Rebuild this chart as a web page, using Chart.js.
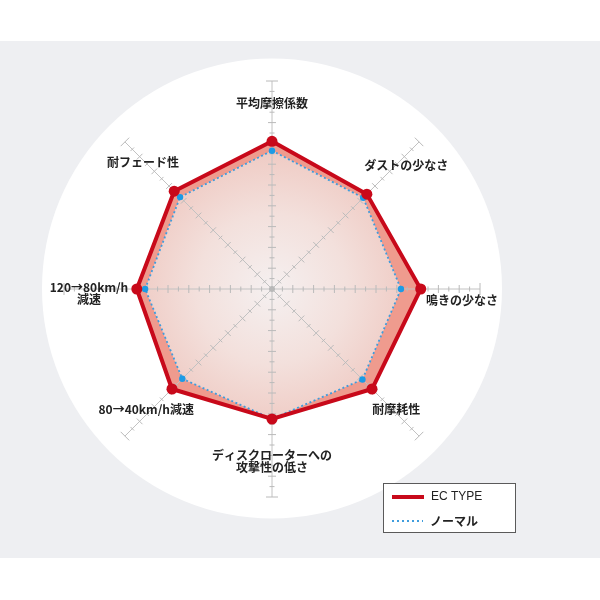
<!DOCTYPE html>
<html>
<head>
<meta charset="utf-8">
<script src="https://cdn.jsdelivr.net/npm/chart.js@4.4.1/dist/chart.umd.min.js"></script>
<style>
  html, body { margin: 0; padding: 0; background: #ffffff; }
  #wrap { position: relative; width: 600px; height: 600px; }
</style>
</head>
<body>
<div id="wrap"><canvas id="radar"></canvas></div>
<script>
// axis names, clockwise from the top
var categories = [
    ["平均摩擦係数"],
    ["ダストの少なさ"],
    ["鳴きの少なさ"],
    ["耐摩耗性"],
    ["ディスクローターへの", "攻撃性の低さ"],
    ["80→40km/h減速"],
    ["120→80km/h", "減速"],
    ["耐フェード性"]
];
var seriesNames = ["EC TYPE", "ノーマル"];
var ecValues = [14.2, 12.9, 14.3, 13.6, 12.5, 13.6, 13.0, 13.3];
var normalValues = [13.3, 12.4, 12.4, 12.3, 12.5, 12.2, 12.2, 12.5];
var scaleMax = 20;

// label placement: distance from centre along the axis, then small nudge
var labelPlace = [
    [186, 0, 0],
    [180, 7, 4],
    [190, 0, 11],
    [173, 2, -2],
    [172, 0, 0],
    [175, -2, -3],
    [183, 0, 4],
    [181, -1, 1]
];

var labelFont = "bold 12px 'Noto Sans CJK JP', 'Noto Sans', sans-serif";

function normalFill(context) {
    var s = context.chart.scales.r;
    if (!s || !s.drawingArea) return "#f0d4cf";
    var g = context.chart.ctx.createRadialGradient(s.xCenter, s.yCenter, 0, s.xCenter, s.yCenter, s.drawingArea * 0.66);
    g.addColorStop(0, "#f5f0f0");
    g.addColorStop(0.55, "#f3e0dc");
    g.addColorStop(1, "#efcbc4");
    return g;
}

// gray band and the white disc behind the chart
var backdrop = {
    id: "backdrop",
    beforeDraw: function(chart) {
        var ctx = chart.ctx;
        var s = chart.scales.r;
        ctx.save();
        ctx.fillStyle = "#eeeff2";
        ctx.fillRect(0, 41, chart.width, 517);
        ctx.fillStyle = "#ffffff";
        ctx.beginPath();
        ctx.arc(s.xCenter, s.yCenter - 0.5, s.drawingArea * 230 / 208, 0, Math.PI * 2);
        ctx.fill();
        ctx.restore();
    }
};

// axis spokes with tick marks, drawn over the fills but under the lines
var spokes = {
    id: "spokes",
    beforeDatasetsDraw: function(chart) {
        var ctx = chart.ctx;
        var s = chart.scales.r;
        ctx.save();
        ctx.lineWidth = 1;
        for (var i = 0; i < categories.length; i++) {
            var end = s.getPointPositionForValue(i, scaleMax);
            ctx.strokeStyle = "#c2c2c2";
            ctx.beginPath();
            ctx.moveTo(s.xCenter, s.yCenter);
            ctx.lineTo(end.x, end.y);
            ctx.stroke();

            var px = -Math.sin(end.angle);
            var py = Math.cos(end.angle);
            ctx.strokeStyle = "#bababa";
            for (var v = 1; v <= scaleMax; v++) {
                var p = s.getPointPositionForValue(i, v);
                var half = v == scaleMax ? 6 : (v % 2 == 0 ? 4 : 2.5);
                ctx.beginPath();
                ctx.moveTo(p.x - px * half, p.y - py * half);
                ctx.lineTo(p.x + px * half, p.y + py * half);
                ctx.stroke();
            }
        }
        ctx.fillStyle = "#b8b8b8";
        ctx.beginPath();
        ctx.arc(s.xCenter, s.yCenter, 3, 0, Math.PI * 2);
        ctx.fill();
        ctx.restore();
    }
};

// axis names and the boxed legend
var texts = {
    id: "texts",
    afterDraw: function(chart) {
        var ctx = chart.ctx;
        var s = chart.scales.r;
        ctx.save();
        ctx.font = labelFont;
        ctx.fillStyle = "#222222";
        ctx.textAlign = "center";
        ctx.textBaseline = "middle";
        for (var i = 0; i < categories.length; i++) {
            var pl = labelPlace[i];
            var p = s.getPointPosition(i, pl[0]);
            var lines = categories[i];
            var y0 = p.y + pl[2] - (lines.length - 1) * 6;
            for (var k = 0; k < lines.length; k++) {
                ctx.fillText(lines[k], p.x + pl[1], y0 + k * 12);
            }
        }

        // legend
        var ds = chart.data.datasets;
        ctx.fillStyle = "#ffffff";
        ctx.fillRect(383, 483, 132, 49);
        ctx.strokeStyle = "#5a5a5a";
        ctx.lineWidth = 1;
        ctx.strokeRect(383.5, 483.5, 132, 49);

        ctx.strokeStyle = ds[0].borderColor;
        ctx.lineWidth = 4;
        ctx.beginPath();
        ctx.moveTo(392, 497);
        ctx.lineTo(424, 497);
        ctx.stroke();

        ctx.strokeStyle = ds[1].borderColor;
        ctx.lineWidth = 2;
        ctx.setLineDash([2, 3]);
        ctx.beginPath();
        ctx.moveTo(392, 521);
        ctx.lineTo(423, 521);
        ctx.stroke();
        ctx.setLineDash([]);

        ctx.fillStyle = "#222222";
        ctx.textAlign = "left";
        ctx.font = "12px 'Liberation Sans', Arial, sans-serif";
        ctx.fillText(ds[0].label, 431, 497);
        ctx.font = labelFont;
        ctx.fillText(ds[1].label, 430, 521);
        ctx.restore();
    }
};

var config = {
    type: "radar",
    data: {
        labels: categories,
        datasets: [{
            label: seriesNames[0],
            data: ecValues,
            order: 1,
            fill: "+1",   // band between EC TYPE and ノーマル
            backgroundColor: "#ef9b8e",
            borderColor: "#c8091a",
            borderWidth: 4,
            borderJoinStyle: "miter",
            pointRadius: 5.5,
            pointBorderWidth: 0,
            pointBackgroundColor: "#c8091a"
        }, {
            label: seriesNames[1],
            data: normalValues,
            order: 2,
            fill: true,
            backgroundColor: normalFill,
            borderColor: "#3f9ddd",
            borderWidth: 1.8,
            borderDash: [2, 2.5],
            pointRadius: 3.2,
            pointBorderWidth: 0,
            pointBackgroundColor: "#1c9be6"
        }]
    },
    options: {
        responsive: true,
        maintainAspectRatio: false,
        animation: false,
        layout: {
            padding: { left: 64, right: 120, top: 81, bottom: 103 }
        },
        scales: {
            r: {
                min: 0,
                max: scaleMax,
                ticks: { display: false, stepSize: 1 },
                grid: { display: false },
                angleLines: { display: false },
                pointLabels: { display: false }
            }
        },
        plugins: {
            legend: { display: false },
            tooltip: { enabled: false },
            filler: { drawTime: "beforeDatasetsDraw" }
        }
    },
    plugins: [backdrop, spokes, texts]
};

window.addEventListener('DOMContentLoaded', function() {
    new Chart(document.getElementById("radar"), config);
});
</script>
</body>
</html>
